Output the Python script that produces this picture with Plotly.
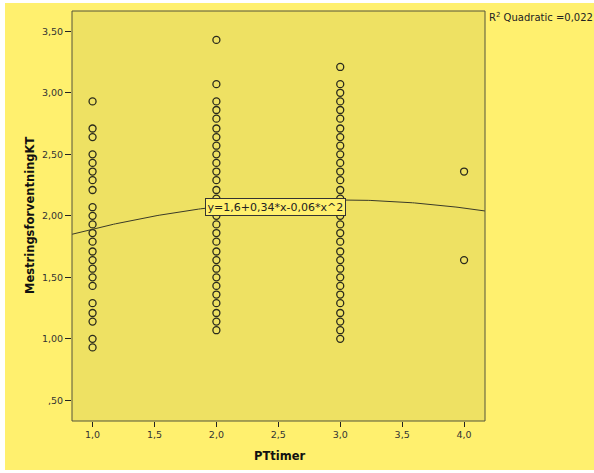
import numpy as np
import plotly.graph_objects as go

# ---- data ----
x_categories = [1.0, 2.0, 3.0, 4.0]
y_at_1 = [2.93, 2.71, 2.64, 2.50, 2.43, 2.36, 2.29, 2.21, 2.07, 2.00, 1.93, 1.86,
          1.79, 1.71, 1.64, 1.57, 1.50, 1.43, 1.29, 1.21, 1.14, 1.00, 0.93]
y_at_2 = [3.43, 3.07, 2.93, 2.86, 2.79, 2.71, 2.64, 2.57, 2.50, 2.43, 2.36, 2.29,
          2.21, 2.14, 2.07, 2.00, 1.93, 1.86, 1.79, 1.71, 1.64, 1.57, 1.50, 1.43,
          1.36, 1.29, 1.21, 1.14, 1.07]
y_at_3 = [3.21, 3.07, 3.00, 2.93, 2.86, 2.79, 2.71, 2.64, 2.57, 2.50, 2.43, 2.36,
          2.29, 2.21, 2.14, 2.07, 2.00, 1.93, 1.86, 1.79, 1.71, 1.64, 1.57, 1.50,
          1.43, 1.36, 1.29, 1.21, 1.14, 1.07, 1.00]
y_at_4 = [2.36, 1.64]

# quadratic fit (as drawn)
fit_a, fit_b, fit_c = 1.587, 0.367, -0.062
fit_label = "y=1,6+0,34*x-0,06*x^2"
r2_label = "R<sup>2</sup> Quadratic =0,022"

x_tickvals = [1.0, 1.5, 2.0, 2.5, 3.0, 3.5, 4.0]
x_ticktext = ["1,0", "1,5", "2,0", "2,5", "3,0", "3,5", "4,0"]
y_tickvals = [0.5, 1.0, 1.5, 2.0, 2.5, 3.0, 3.5]
y_ticktext = [",50", "1,00", "1,50", "2,00", "2,50", "3,00", "3,50"]

x_range = [0.834, 4.169]
y_range = [0.332, 3.665]

# ---- build ----
groups = [y_at_1, y_at_2, y_at_3, y_at_4]
xs, ys = [], []
for xc, g in zip(x_categories, groups):
    xs += [xc] * len(g)
    ys += g

OUTER = "#FFF06E"
INNER = "#EEE163"
INK = "#2a2a1c"
FONT = "DejaVu Sans"

fig = go.Figure()
fig.add_trace(go.Scatter(
    x=xs, y=ys, mode="markers",
    marker=dict(symbol="circle-open", size=7, color=INK, line=dict(width=1.3)),
    hoverinfo="skip", showlegend=False))

cx = np.linspace(x_range[0], x_range[1], 200)
cy = fit_a + fit_b * cx + fit_c * cx ** 2
fig.add_trace(go.Scatter(x=cx, y=cy, mode="lines",
                         line=dict(color="#3a3a28", width=1),
                         hoverinfo="skip", showlegend=False))

L, R, T, B = 72, 109, 11, 52
W, H = 594, 473
pw, ph = W - L - R, H - T - B

fig.update_layout(
    width=W, height=H,
    margin=dict(l=L, r=R, t=T, b=B, pad=0),
    paper_bgcolor="white",
    plot_bgcolor="rgba(0,0,0,0)",
    showlegend=False,
    font=dict(family=FONT, size=10, color="#333"),
    shapes=[
        dict(type="rect", xref="paper", yref="paper", layer="below",
             x0=(5 - L) / pw, x1=(W - L) / pw,
             y0=(H - B - 470) / ph, y1=(H - B - 3) / ph,
             fillcolor=OUTER, line=dict(width=0)),
        dict(type="rect", xref="paper", yref="paper", layer="below",
             x0=0, x1=1, y0=0, y1=1,
             fillcolor=INNER, line=dict(width=0)),
        dict(type="rect", xref="paper", yref="paper", layer="above",
             x0=0, x1=1, y0=0, y1=1,
             fillcolor="rgba(0,0,0,0)", line=dict(color="#55553a", width=1)),
    ],
    annotations=[
        dict(x=2.48, y=2.073, xref="x", yref="y", text=fit_label, showarrow=False,
             font=dict(family=FONT, size=11, color="#222"),
             bgcolor=OUTER, bordercolor="#333", borderwidth=1, borderpad=1.5),
        dict(x=(487 - L) / pw, y=(H - B - 17) / ph, xref="paper", yref="paper",
             xanchor="left", yanchor="middle", text=r2_label, showarrow=False,
             font=dict(family=FONT, size=10, color="#222")),
        dict(x=(279 - L) / pw, y=(H - B - 456) / ph, xref="paper", yref="paper",
             xanchor="center", yanchor="middle", text="<b>PTtimer</b>", showarrow=False,
             font=dict(family=FONT, size=11.5, color="#111")),
        dict(x=(30 - L) / pw, y=0.5, xref="paper", yref="paper", textangle=-90,
             xanchor="center", yanchor="middle", text="<b>MestringsforventningKT</b>",
             showarrow=False, font=dict(family=FONT, size=11.5, color="#111")),
    ],
)

fig.update_xaxes(range=x_range, tickvals=x_tickvals, ticktext=x_ticktext,
                 showgrid=False, zeroline=False, ticks="outside", ticklen=5,
                 tickwidth=1.2, tickcolor="#222", showline=False,
                 tickfont=dict(family=FONT, size=9.5, color="#333"))
fig.update_yaxes(range=y_range, tickvals=y_tickvals, ticktext=y_ticktext,
                 showgrid=False, zeroline=False, ticks="outside", ticklen=6,
                 tickwidth=1.2, tickcolor="#222", showline=False,
                 tickfont=dict(family=FONT, size=9.5, color="#333"))

fig.write_html("out.html", config={"displayModeBar": False},
               post_script="document.body.style.margin='0';document.body.style.overflow='hidden';")
